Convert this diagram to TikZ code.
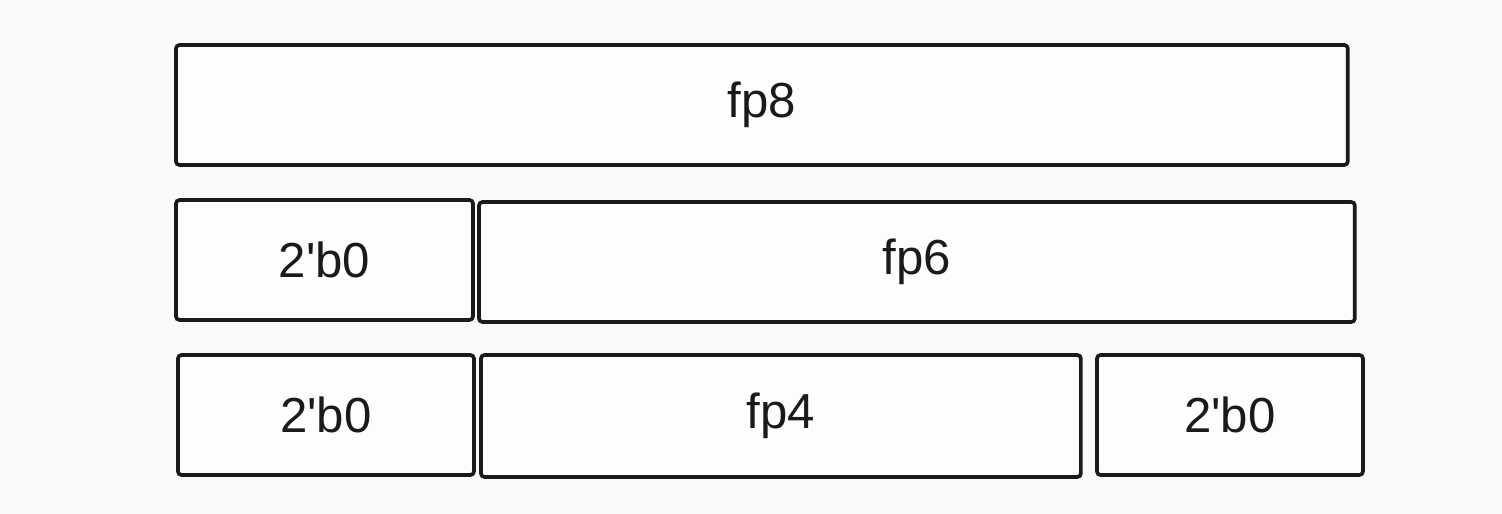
\documentclass[tikz,border=0pt]{standalone}
\usepackage{fontspec}
\newfontfamily\hand{Liberation Sans}
\definecolor{bg}{HTML}{F8F9FA}
\definecolor{boxfill}{HTML}{FDFDFD}
\definecolor{ink}{HTML}{1A1A1A}
\begin{document}
\begin{tikzpicture}[x=0.02cm,y=-0.02cm,
  cell/.style={draw=ink, fill=boxfill, line width=2.1pt, rounded corners=2pt,
    inner sep=0pt, outer sep=0pt, text=ink, font=\hand\fontsize{28}{32}\selectfont,
    minimum height=2.4cm, anchor=north west}]
\fill[bg] (0,0) rectangle (1502,514);
\useasboundingbox (0,0) rectangle (1502,514);
% row 1
\node[cell, minimum width=23.44cm] (fp8) at (176,45) {fp8};
% row 2
\node[cell, minimum width=5.94cm] (b0a) at (176,200) {2'b0};
\node[cell, minimum width=17.52cm] (fp6) at (479,202) {fp6};
% row 3
\node[cell, minimum width=5.92cm] (b0b) at (178,355) {2'b0};
\node[cell, minimum width=12.0cm, minimum height=2.44cm] (fp4) at (481,355) {fp4};
\node[cell, minimum width=5.32cm] (b0c) at (1097,355) {2'b0};
\end{tikzpicture}
\end{document}
